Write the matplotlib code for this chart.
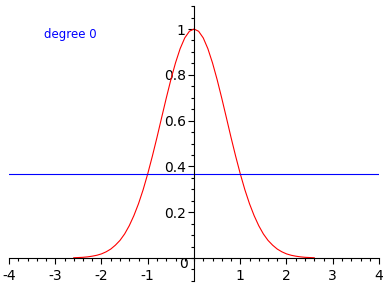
import numpy as np
import matplotlib.pyplot as plt

# curve values (left half, mirrored for the right)
x_half = [-2.6, -2.5, -2.4, -2.3, -2.2, -2.1, -2.0, -1.9, -1.8, -1.7, -1.6, -1.5, -1.4,
          -1.3, -1.2, -1.1, -1.0, -0.9, -0.8, -0.7, -0.6, -0.5, -0.4, -0.3, -0.2, -0.1, 0.0]
y_half = [0.001, 0.002, 0.003, 0.005, 0.008, 0.012, 0.018, 0.027, 0.039, 0.056, 0.077, 0.105, 0.141,
          0.185, 0.237, 0.298, 0.368, 0.445, 0.527, 0.613, 0.698, 0.779, 0.852, 0.914, 0.961, 0.990, 1.0]
level = 0.368
label_text = "degree 0"
x_ticks = [-4, -3, -2, -1, 1, 2, 3, 4]
y_ticks = [0.2, 0.4, 0.6, 0.8, 1.0]
y_tick_labels = ["0.2", "0.4", "0.6", "0.8", "1"]

x_curve = x_half + [-v for v in x_half[-2::-1]]
y_curve = y_half + y_half[-2::-1]

fig = plt.figure(figsize=(3.88, 2.88), dpi=100)
ax = fig.add_axes([9 / 388, 7.1 / 288, 370 / 388, 274.8 / 288])
ax.set_xlim(-4, 4)
ax.set_ylim(-0.1, 1.1)

ax.plot(x_curve, y_curve, color="#ff0000", lw=0.8)
ax.axhline(level, color="#0000ff", lw=0.8)

for s in ["top", "right"]:
    ax.spines[s].set_visible(False)
ax.spines["left"].set_position(("data", 0))
ax.spines["bottom"].set_position(("data", 0))
for s in ["left", "bottom"]:
    ax.spines[s].set_linewidth(0.8)

ax.set_xticks(x_ticks)
ax.set_xticklabels([str(t) for t in x_ticks])
ax.set_xticks(np.arange(-4, 4.01, 0.2), minor=True)
ax.set_yticks(y_ticks)
ax.set_yticklabels(y_tick_labels)
ax.set_yticks(np.arange(-0.1, 1.101, 0.05), minor=True)
ax.tick_params(which="major", length=4, width=0.8, labelsize=10, pad=2)
ax.tick_params(which="minor", length=2.5, width=0.8)
ax.tick_params(axis="x", pad=4)

ax.text(-0.13, -0.028, "0", ha="right", va="center", fontsize=10)
ax.text(-2.68, 0.974, label_text, color="#0000ff", fontsize=8.5, ha="center", va="center")

fig.savefig("out.png", dpi=100)
